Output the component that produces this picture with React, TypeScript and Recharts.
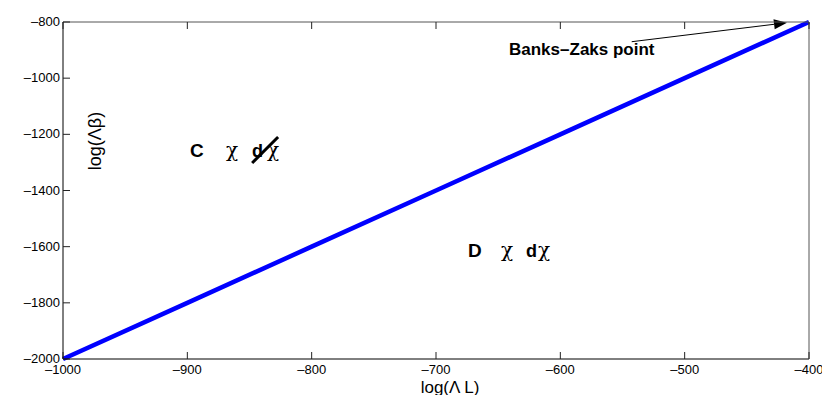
import React from 'react';
import { LineChart, Line, XAxis, YAxis, ReferenceLine } from 'recharts';

// beta-function boundary: log(Lambda L) vs log(Lambda beta)
const logLambdaL = [-1000, -900, -800, -700, -600, -500, -400];
const logLambdaBeta = [-2000, -1800, -1600, -1400, -1200, -1000, -800];
const xTicks = [-1000, -900, -800, -700, -600, -500, -400];
const yTicks = [-2000, -1800, -1600, -1400, -1200, -1000, -800];

const data = logLambdaL.map((x, i) => ({ x, y: logLambdaBeta[i] }));

const SANS = '"Liberation Sans", Arial, Helvetica, sans-serif';
const SERIF = '"DejaVu Serif", "Liberation Serif", serif';
const dash = (v: number) => String(v).replace('-', '\u2013');

const BottomTick = ({ x, y, payload }: any) => (
  <g>
    <line x1={x} y1={y} x2={x} y2={y - 7} stroke="#222" />
    <text x={x} y={y + 15} textAnchor="middle" fontSize={13} fontFamily={SANS} fill="#000">
      {dash(payload.value)}
    </text>
  </g>
);
const TopTick = ({ x, y }: any) => <line x1={x} y1={y} x2={x} y2={y + 7} stroke="#222" />;
const LeftTick = ({ x, y, payload }: any) => (
  <g>
    <line x1={x} y1={y} x2={x + 7} y2={y} stroke="#222" />
    <text x={x - 3} y={y + 4} textAnchor="end" fontSize={13} fontFamily={SANS} fill="#000">
      {dash(payload.value)}
    </text>
  </g>
);
const RightTick = ({ x, y }: any) => <line x1={x} y1={y} x2={x - 7} y2={y} stroke="#222" />;

const Arrow = ({ x1, y1, x2, y2 }: any) => {
  const a = Math.atan2(y2 - y1, x2 - x1);
  const L = 13, W = 5;
  const bx = x2 - L * Math.cos(a), by = y2 - L * Math.sin(a);
  const p1 = `${bx - W * Math.sin(a)},${by + W * Math.cos(a)}`;
  const p2 = `${bx + W * Math.sin(a)},${by - W * Math.cos(a)}`;
  return (
    <g>
      <line x1={x1} y1={y1} x2={bx} y2={by} stroke="#000" strokeWidth={1} />
      <polygon points={`${x2},${y2} ${p1} ${p2}`} fill="#000" />
    </g>
  );
};

const bold = { fontSize: 19, fontWeight: 'bold', fontFamily: SANS, fill: '#000' } as const;
const chi = { fontSize: 20, fontFamily: SERIF, fill: '#000' } as const;

export default function App() {
  return (
    <div style={{ margin: -8 }}>
      <LineChart width={830} height={403} data={data}
        margin={{ top: 12, right: 11, left: 13, bottom: 14 }}>
        <XAxis type="number" dataKey="x" domain={[-1000, -400]} ticks={xTicks}
          height={30} tickSize={0} tickMargin={0} tickLine={false}
          axisLine={{ stroke: '#000' }} tick={<BottomTick />} interval={0} />
        <XAxis xAxisId="top" orientation="top" type="number" dataKey="x" domain={[-1000, -400]}
          ticks={xTicks} height={10} tickSize={0} tickMargin={0} tickLine={false}
          axisLine={{ stroke: '#555' }} tick={<TopTick />} interval={0} />
        <YAxis type="number" domain={[-2000, -800]} ticks={yTicks} width={50}
          tickSize={0} tickMargin={0} tickLine={false} axisLine={{ stroke: '#000' }}
          tick={<LeftTick />} interval={0} />
        <YAxis yAxisId="right" orientation="right" type="number" domain={[-2000, -800]}
          ticks={yTicks} width={10} tickSize={0} tickMargin={0} tickLine={false}
          axisLine={{ stroke: '#555' }} tick={<RightTick />} interval={0} />
        <Line dataKey="y" stroke="#0000ff" strokeWidth={4.5} dot={false}
          isAnimationActive={false} />
        <ReferenceLine segment={[{ x: -847.9, y: -1302 }, { x: -827, y: -1209.5 }]}
          stroke="#000" strokeWidth={3} ifOverflow="visible" />
        <ReferenceLine segment={[{ x: -542.6, y: -870.2 }, { x: -417.7, y: -802.5 }]}
          ifOverflow="visible" shape={<Arrow />} />
        <text x={509} y={55} fontSize={17} fontWeight="bold" fontFamily={SANS} fill="#000">
          Banks{'\u2013'}Zaks point
        </text>
        <text x={190} y={157} {...bold}>C</text>
        <text x={226} y={157} {...chi}>χ</text>
        <text x={252} y={157} {...bold} fontSize={18}>d</text>
        <text x={267} y={157} {...chi}>χ</text>
        <text x={468} y={257} {...bold}>D</text>
        <text x={501} y={257} {...chi}>χ</text>
        <text x={526} y={257} {...bold} fontSize={18}>d</text>
        <text x={538} y={257} {...chi}>χ</text>
        <text x={450} y={392.5} textAnchor="middle" fontSize={17} fontFamily={SANS} fill="#000">
          log(Λ L)
        </text>
        <text x={101} y={141} textAnchor="middle" fontSize={18} fontFamily={SANS} fill="#000"
          transform="rotate(-90, 101, 141)">
          log(Λβ)
        </text>
      </LineChart>
    </div>
  );
}
